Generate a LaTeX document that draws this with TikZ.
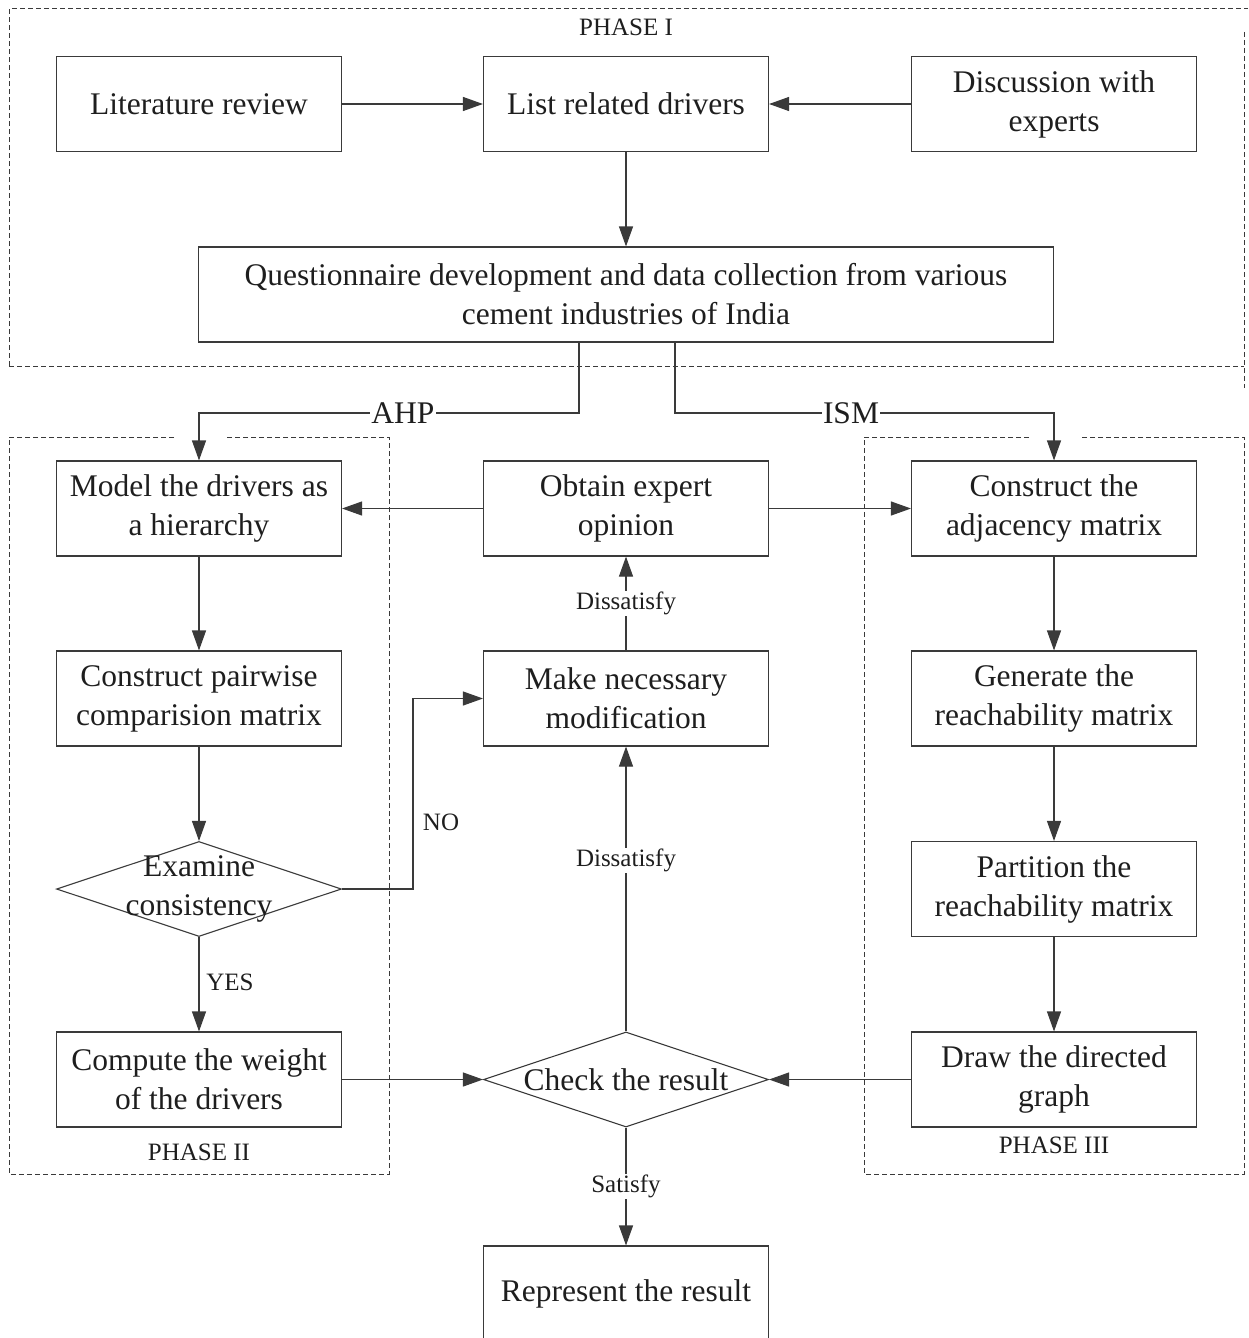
\documentclass[tikz,border=0pt]{standalone}
\usepackage{fontspec}
\setmainfont{Liberation Serif}
\usetikzlibrary{shapes.geometric,arrows.meta}
\definecolor{ink}{HTML}{1E1E1E}
\definecolor{rule}{HTML}{3A3A3A}
\begin{document}
\begin{tikzpicture}[x=1pt,y=-1pt,
  box/.style={draw=rule,line width=1.1pt,rectangle,minimum width=285pt,minimum height=95pt,
    inner sep=0pt,align=center,text=ink,font=\fontsize{31.5}{39}\selectfont},
  decide/.style={draw=rule,line width=1.1pt,diamond,minimum width=285pt,minimum height=95pt,
    inner sep=0pt,aspect=3},
  dtext/.style={align=center,text=ink,inner sep=0pt,font=\fontsize{31.5}{39}\selectfont},
  tag/.style={text=ink,inner sep=1pt,font=\fontsize{25}{30}\selectfont},
  big/.style={text=ink,inner sep=1pt,font=\fontsize{31.5}{36}\selectfont},
  flow/.style={draw=rule,line width=1.1pt,-{Triangle[length=20pt,width=14pt]}},
  frame/.style={draw=rule,line width=1pt,dash pattern=on 5pt off 3pt}]
\useasboundingbox (0,0) rectangle (1248,1338);

% phase frames
\draw[frame] (9,366) -- (9,9) -- (1248,9);
\draw[frame] (9,366) -- (1244,366);
\draw[frame] (1244,32) -- (1244,388);
\draw[frame] (174,437) -- (9,437) -- (9,1174) -- (389,1174) -- (389,437) -- (226,437);
\draw[frame] (1029,437) -- (864,437) -- (864,1174) -- (1244,1174) -- (1244,437) -- (1080,437);
\node[tag] (p1) at (626,27) {PHASE I};
\node[tag] (p2) at (199,1152) {PHASE II};
\node[tag] (p3) at (1054,1145) {PHASE III};

% phase I
\node[box] (lit) at (199,104) {Literature review};
\node[box] (list) at (626,104) {List related drivers};
\node[box] (disc) at (1054,104) {Discussion with\\experts};
\node[box,minimum width=855pt] (quest) at (626,294.5)
  {Questionnaire development and data collection from various\\cement industries of India};

% middle column
\node[box] (obtain) at (626,508.5) {Obtain expert\\opinion};
\node[box] (modif) at (626,698.5) {Make necessary\\modification};
\node[decide] (check) at (626,1079.5) {};
\node[dtext] (checkt) at (626,1079.5) {Check the result};
\node[box] (repr) at (626,1293.5) {Represent the result};

% AHP column
\node[box] (model) at (199,508.5) {Model the drivers as\\a hierarchy};
\node[box] (pair) at (199,698.5) {Construct pairwise\\comparision matrix};
\node[decide] (exam) at (199,889) {};
\node[dtext] (examt) at (199,889) {Examine\\consistency};
\node[box] (comp) at (199,1079.5) {Compute the weight\\of the drivers};

% ISM column
\node[box] (adj) at (1054,508.5) {Construct the\\adjacency matrix};
\node[box] (reach) at (1054,698.5) {Generate the\\reachability matrix};
\node[box] (part) at (1054,889) {Partition the\\reachability matrix};
\node[box] (graph) at (1054,1079.5) {Draw the directed\\graph};

% connectors
\draw[flow] (lit) -- (list);
\draw[flow] (disc) -- (list);
\draw[flow] (list) -- (quest);
\coordinate (qa) at (579,342);
\coordinate (qi) at (675,342);
\draw[flow] (qa) -- (579,413) -- (199,413) -- (model);
\node[big,fill=white] (ahp) at (403,413) {AHP};
\draw[flow] (qi) -- (675,413) -- (1054,413) -- (adj);
\node[big,fill=white] (ism) at (851,413) {ISM};
\draw[flow] (obtain) -- (model);
\draw[flow] (obtain) -- (adj);
\draw[flow] (model) -- (pair);
\draw[flow] (pair) -- (exam);
\draw[flow] (exam.east) -- (413,889) -- (413,698.5) -- (modif.west);
\node[tag] (no) at (441,822) {NO};
\draw[flow] (exam) -- (comp);
\node[tag] (yes) at (230,982) {YES};
\draw[flow] (modif) -- node[tag,fill=white] (d1) {Dissatisfy} (obtain);
\draw[flow] (check) -- (modif);
\node[tag,fill=white] (d2) at (626,860) {Dissatisfy};
\draw[flow] (comp) -- (check);
\draw[flow] (graph) -- (check);
\draw[flow] (adj) -- (reach);
\draw[flow] (reach) -- (part);
\draw[flow] (part) -- (graph);
\draw[flow] (check) -- node[tag,fill=white] (sat) {Satisfy} (repr);
\end{tikzpicture}
\end{document}
